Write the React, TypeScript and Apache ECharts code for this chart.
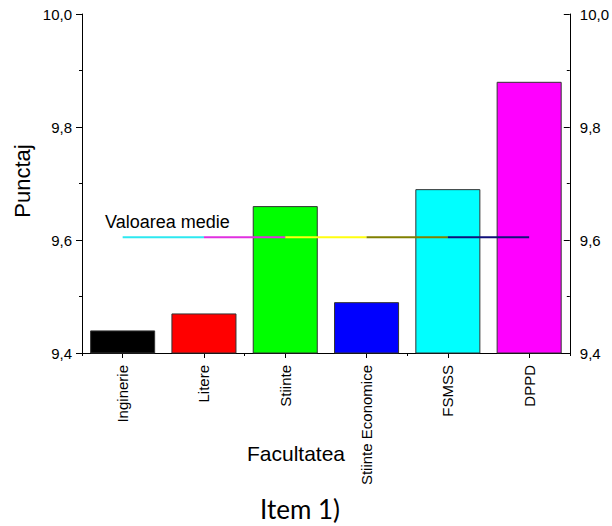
import React, { useEffect, useRef } from "react";
import * as echarts from "echarts";

const categories = ["Inginerie", "Litere", "Stiinte", "Stiinte Economice", "FSMSS", "DPPD"];
const scores = [9.44, 9.47, 9.66, 9.49, 9.69, 9.88];
const barColors = ["#000000", "#ff0000", "#00ff00", "#0000ff", "#00ffff", "#ff00ff"];
const meanSegmentColors = ["#2ee8f0", "#e030e0", "#ffff10", "#808000", "#10107a"];
const yTicks = [9.4, 9.6, 9.8, 10.0];

const LABEL_FONT = "'Liberation Sans', Arial, sans-serif";
const TITLE_FONT = "Lato, 'Noto Sans', sans-serif";

export default function App() {
  const ref = useRef<HTMLDivElement>(null);
  useEffect(() => {
    if (!ref.current) return;
    const chart = echarts.init(ref.current, undefined, { renderer: "svg" });
    const mean = scores.reduce((a, b) => a + b, 0) / scores.length;
    const fmt = (v: number) => v.toFixed(1).replace(".", ",");

    const segmentSeries = meanSegmentColors.map((c, i) => ({
      type: "line",
      xAxisIndex: 0,
      yAxisIndex: 0,
      data: categories.map((_, j) => (j === i || j === i + 1 ? mean : null)),
      symbol: "none",
      connectNulls: false,
      lineStyle: { color: c, width: 2 },
      z: 5,
      silent: true,
    }));

    const yAxisBase = {
      type: "value",
      min: yTicks[0],
      max: yTicks[yTicks.length - 1],
      interval: 0.2,
      splitLine: { show: false },
      axisLine: { show: true, lineStyle: { color: "#000", width: 1 } },
      minorTick: { show: true, splitNumber: 2, length: 3, lineStyle: { color: "#000" } },
      axisLabel: { formatter: fmt, color: "#000", fontSize: 15, fontFamily: LABEL_FONT, margin: 10 },
    };

    chart.setOption({
      animation: false,
      backgroundColor: "#fff",
      grid: { left: 82, right: 42, top: 14, bottom: 173 },
      xAxis: [
        {
          type: "category",
          data: categories,
          position: "bottom",
          axisLine: { show: true, lineStyle: { color: "#000", width: 1 } },
          axisTick: { show: true, alignWithLabel: true, length: 5, lineStyle: { color: "#000" } },
          axisLabel: {
            rotate: 90,
            interval: 0,
            color: "#000",
            fontSize: 15,
            fontFamily: LABEL_FONT,
            margin: 12,
          },
        },
        {
          type: "category",
          data: categories,
          position: "bottom",
          axisLine: { show: false },
          axisTick: { show: true, length: 3, lineStyle: { color: "#000" } },
          axisLabel: { show: false },
        },
      ],
      yAxis: [
        { ...yAxisBase, position: "left", axisTick: { show: true, length: 6, lineStyle: { color: "#000" } } },
        { ...yAxisBase, position: "right", axisTick: { show: true, inside: true, length: 6, lineStyle: { color: "#000" } } },
      ],
      series: [
        {
          type: "bar",
          xAxisIndex: 0,
          yAxisIndex: 0,
          barCategoryGap: "20%",
          data: scores.map((v, i) => ({
            value: v,
            itemStyle: { color: barColors[i], borderColor: "#333", borderWidth: 1 },
          })),
          z: 2,
        },
        ...segmentSeries,
      ],
      graphic: [
        {
          type: "text",
          left: 105,
          top: 213,
          style: { text: "Valoarea medie", fontSize: 18, fontFamily: LABEL_FONT, fill: "#000" },
          z: 10,
        },
        {
          type: "text",
          x: 22,
          y: 181,
          rotation: Math.PI / 2,
          style: {
            text: "Punctaj",
            fontSize: 22,
            fontFamily: LABEL_FONT,
            fill: "#000",
            align: "center",
            verticalAlign: "middle",
          },
        },
        {
          type: "text",
          x: 296,
          y: 453,
          style: {
            text: "Facultatea",
            fontSize: 21,
            fontFamily: LABEL_FONT,
            fill: "#000",
            align: "center",
            verticalAlign: "middle",
          },
        },
        {
          type: "text",
          x: 300,
          y: 509,
          style: {
            text: "Item 1)",
            fontSize: 26,
            fontFamily: TITLE_FONT,
            fill: "#000",
            align: "center",
            verticalAlign: "middle",
          },
        },
      ],
    });
    return () => chart.dispose();
  }, []);
  return (
    <div
      ref={ref}
      style={{ position: "absolute", left: 0, top: 0, width: 612, height: 526, background: "#fff" }}
    />
  );
}
